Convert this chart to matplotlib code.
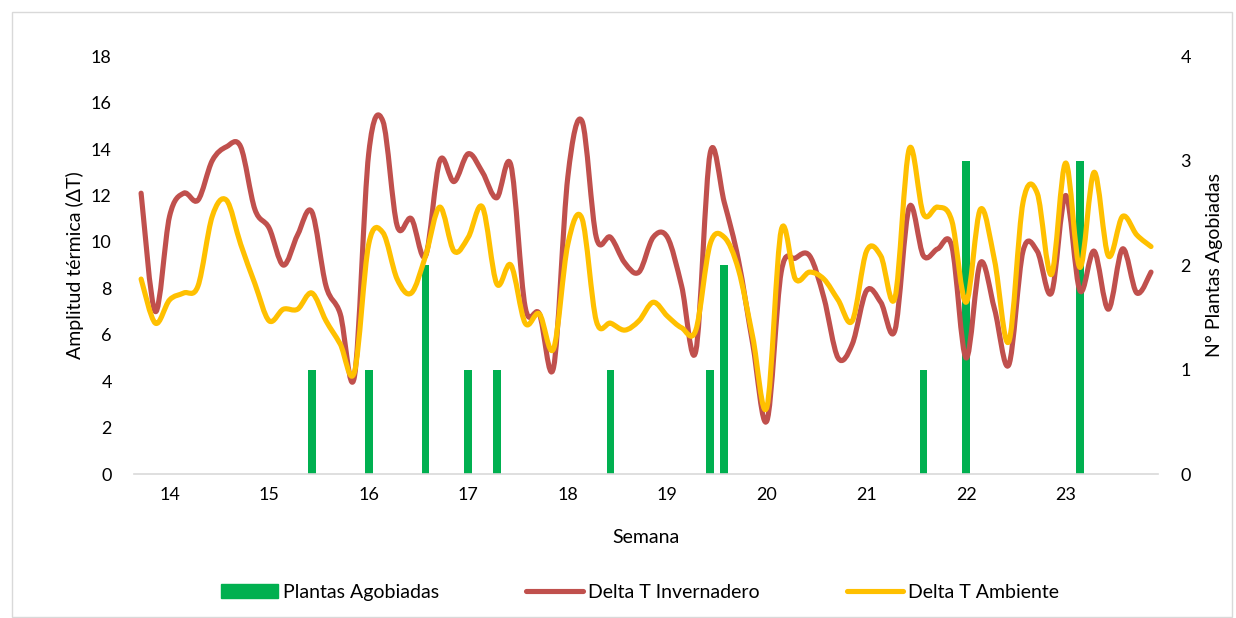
import numpy as np
import matplotlib.pyplot as plt
from matplotlib.path import Path
from matplotlib.patches import PathPatch, Rectangle, Patch
from matplotlib.lines import Line2D

plt.rcParams['font.family'] = ['Lato', 'DejaVu Sans']

# daily values, weeks 14..23 (label of each week sits on its 3rd day)
semanas = ['14', '15', '16', '17', '18', '19', '20', '21', '22', '23']
dia_semana = [2, 9, 16, 23, 30, 37, 44, 51, 58, 65]

delta_inv = [12.1, 7.0, 11.1, 12.1, 11.8, 13.5, 14.1, 14.1, 11.4, 10.6,
             9.0, 10.3, 11.3, 8.1, 6.9, 4.2, 13.8, 15.2, 10.7, 11.0,
             9.4, 13.5, 12.6, 13.8, 13.0, 11.9, 13.3, 7.2, 6.9, 4.6,
             12.8, 15.2, 10.2, 10.2, 9.1, 8.7, 10.2, 10.2, 8.1, 5.3,
             13.8, 11.7, 9.2, 5.6, 2.3, 8.7, 9.3, 9.4, 7.6, 5.0,
             5.6, 7.9, 7.4, 6.2, 11.5, 9.4, 9.7, 9.8, 5.0, 9.1,
             7.1, 4.7, 9.6, 9.6, 7.8, 12.0, 7.9, 9.6, 7.1, 9.7,
             7.8, 8.7]

delta_amb = [8.4, 6.5, 7.5, 7.8, 8.1, 11.1, 11.8, 9.9, 8.2, 6.6,
             7.1, 7.1, 7.8, 6.6, 5.6, 4.4, 9.9, 10.4, 8.4, 7.8,
             9.4, 11.5, 9.6, 10.2, 11.5, 8.2, 9.0, 6.5, 6.9, 5.4,
             9.9, 11.0, 6.6, 6.5, 6.2, 6.6, 7.4, 6.8, 6.3, 6.2,
             9.9, 10.2, 8.8, 5.9, 2.9, 10.5, 8.4, 8.7, 8.4, 7.5,
             6.6, 9.6, 9.4, 7.6, 14.0, 11.2, 11.5, 10.9, 7.4, 11.4,
             9.2, 5.7, 11.7, 12.1, 8.6, 13.4, 8.9, 13.0, 9.4, 11.1,
             10.3, 9.8]

plantas = [0] * 72
for d, n in [(12, 1), (16, 1), (20, 2), (23, 1), (25, 1), (33, 1),
             (40, 1), (41, 2), (55, 1), (58, 3), (66, 3)]:
    plantas[d] = n

ROJO = '#C0504D'
AMARILLO = '#FFC000'
VERDE = '#00B050'
FS = 14


def suave(x, y):
    # smoothed line like Excel: cubic bezier between points
    p = np.column_stack([x, y]).astype(float)
    n = len(p)
    verts = [p[0]]
    codes = [Path.MOVETO]
    for i in range(n - 1):
        p0 = p[i - 1] if i > 0 else p[i]
        p3 = p[i + 2] if i + 2 < n else p[i + 1]
        c1 = p[i] + (p[i + 1] - p0) / 6
        c2 = p[i + 1] - (p3 - p[i]) / 6
        verts += [c1, c2, p[i + 1]]
        codes += [Path.CURVE4] * 3
    return Path(verts, codes)


fig = plt.figure(figsize=(12.36, 6.18), dpi=100)
ax = fig.add_axes([0.1084, 0.233, 0.8286, 0.676])
ax2 = ax.twinx()
ax.set_zorder(ax2.get_zorder() + 1)
ax.patch.set_visible(False)

dias = np.arange(len(delta_inv))
ax2.bar(dias, plantas, width=0.55, color=VERDE)
ax2.set_ylim(0, 4)
ax2.set_yticks(range(5))

ax.add_patch(PathPatch(suave(dias, delta_inv), fill=False, edgecolor=ROJO,
                       lw=3.7, capstyle='round', joinstyle='round'))
ax.add_patch(PathPatch(suave(dias, delta_amb), fill=False, edgecolor=AMARILLO,
                       lw=3.7, capstyle='round', joinstyle='round'))

ax.set_xlim(-0.5, 71.5)
ax.set_ylim(0, 18)
ax.set_yticks(range(0, 19, 2))
ax.set_xticks(dia_semana)
ax.set_xticklabels(semanas)

for a in (ax, ax2):
    for s in a.spines.values():
        s.set_visible(False)
    a.tick_params(length=0, labelsize=13, colors='#000000')
ax.spines['bottom'].set_visible(True)
ax.spines['bottom'].set_color('#d9d9d9')
ax.spines['bottom'].set_linewidth(1.2)
ax.tick_params(axis='x', pad=9)
ax.tick_params(axis='y', pad=16)
ax2.tick_params(axis='y', pad=16)

ax.set_xlabel('Semana', fontsize=FS, labelpad=19)
ax.set_ylabel('Amplitud térmica (ΔT)', fontsize=FS, labelpad=5)
ax2.set_ylabel('N° Plantas Agobiadas', fontsize=FS, labelpad=11)

handles = [Patch(color=VERDE),
           Line2D([], [], color=ROJO, lw=3.7, solid_capstyle='round'),
           Line2D([], [], color=AMARILLO, lw=3.7, solid_capstyle='round')]
labels = ['Plantas Agobiadas', 'Delta T Invernadero', 'Delta T Ambiente']
fig.legend(handles, labels, loc='center', bbox_to_anchor=(0.518, 0.042),
           ncol=3, frameon=False, fontsize=FS, handlelength=2.9,
           handleheight=0.75, handletextpad=0.25, columnspacing=4.5)

fig.add_artist(Rectangle((12 / 1236, 0.002), 1220 / 1236, 1 - 12 / 618 - 0.002,
                         transform=fig.transFigure, fill=False,
                         edgecolor='#d9d9d9', lw=1))

fig.savefig('out.png', dpi=100)
